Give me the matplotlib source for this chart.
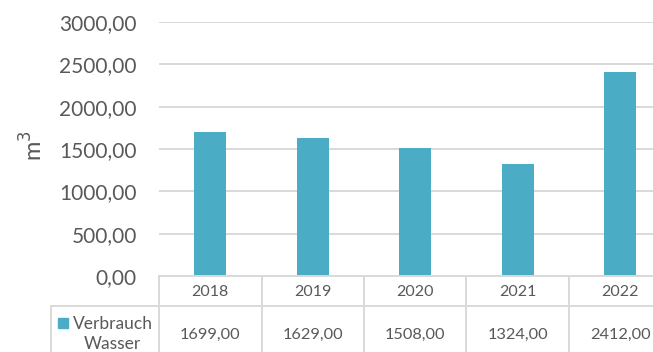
import matplotlib
matplotlib.use("Agg")
import matplotlib.pyplot as plt
from matplotlib.lines import Line2D
from matplotlib.patches import Rectangle
from matplotlib.transforms import blended_transform_factory

plt.rcParams['font.family'] = ['Lato', 'DejaVu Sans']

years = ["2018", "2019", "2020", "2021", "2022"]
verbrauch_wasser = [1699.00, 1629.00, 1508.00, 1324.00, 2412.00]
series_name = "Verbrauch\nWasser"
y_ticks = [0, 500, 1000, 1500, 2000, 2500, 3000]

W, H = 653, 352
BAR = "#4BACC6"
TEXT = "#595959"
GRID = "#D9D9D9"

fig = plt.figure(figsize=(W / 100, H / 100), dpi=100)

# plot area in pixel units (extends past the right edge like the source sheet)
left_px, right_px = 159, 671.5
top_px, base_px = 22, 276
ax = fig.add_axes([left_px / W, 1 - base_px / H,
                   (right_px - left_px) / W, (base_px - top_px) / H])

xs = range(len(years))
ax.bar(xs, verbrauch_wasser, width=0.315, color=BAR, zorder=3)
ax.set_xlim(-0.5, len(years) - 0.5)
ax.set_ylim(0, 3000)
ax.set_yticks(y_ticks)
ax.set_yticklabels([f"{v:.2f}".replace(".", ",") for v in y_ticks],
                   fontsize=15, color=TEXT)
ax.tick_params(axis="y", length=0, pad=16)
ax.set_xticks([])
ax.grid(axis="y", color=GRID, linewidth=1.4, zorder=0)
for s in ax.spines.values():
    s.set_visible(False)

fig.text(33 / W, 1 - 146 / H, "m$^3$", rotation=90, fontsize=17,
         color=TEXT, ha="center", va="center")

# data table under the axis
def fy(py):
    return 1 - py / H

bt = blended_transform_factory(ax.transData, fig.transFigure)
lw = 1.4
row1_bottom = 306
bottom = H + 5

# top border (axis line) and header/value separator
fig.add_artist(Line2D([-0.5, len(years) - 0.5], [fy(base_px)] * 2,
                      transform=bt, color=GRID, lw=lw))
fig.add_artist(Line2D([51 / W, 1.05], [fy(row1_bottom)] * 2,
                      transform=fig.transFigure, color=GRID, lw=lw))
fig.add_artist(Line2D([51 / W] * 2, [fy(row1_bottom), fy(bottom)],
                      transform=fig.transFigure, color=GRID, lw=lw))
for i in range(len(years) + 1):
    fig.add_artist(Line2D([i - 0.5] * 2, [fy(base_px), fy(bottom)],
                          transform=bt, color=GRID, lw=lw))

for i, (yr, v) in enumerate(zip(years, verbrauch_wasser)):
    fig.text(i, fy(292), yr, transform=bt, ha="center", va="center",
             fontsize=11.5, color=TEXT)
    fig.text(i, fy(335), f"{v:.2f}".replace(".", ","), transform=bt,
             ha="center", va="center", fontsize=11.8, color=TEXT)

fig.add_artist(Rectangle((58 / W, fy(328)), 10 / W, 10 / H,
                         transform=fig.transFigure, color=BAR))
fig.text(112.5 / W, fy(334), series_name, ha="center", va="center",
         fontsize=12.5, color=TEXT, linespacing=1.3, multialignment="center")

fig.savefig("out.png", dpi=100)
